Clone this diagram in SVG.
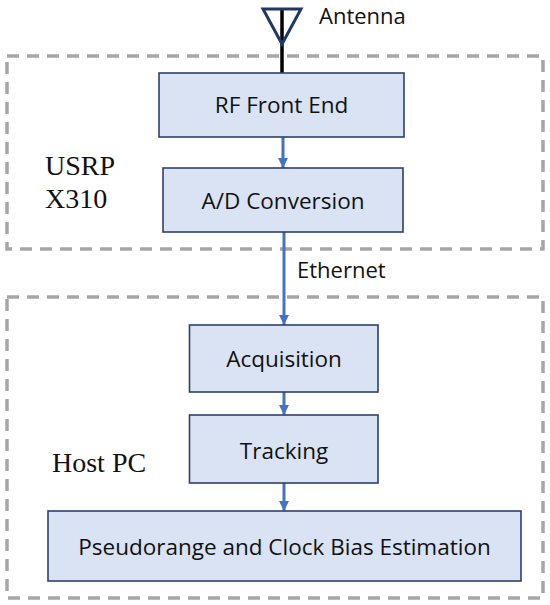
<svg xmlns="http://www.w3.org/2000/svg" width="550" height="605" viewBox="0 0 550 605">
<style>
.node{fill:#dae3f3;stroke:#2f3f6f;stroke-width:1.6}
.lbl{font-family:"Open Sans","Noto Sans",sans-serif;font-size:22.5px;fill:#111;text-anchor:middle}
.grp{fill:none;stroke:#a6a6a6;stroke-width:3.5;stroke-dasharray:12 8}
.glbl{font-family:"Liberation Serif","Times New Roman",serif;font-size:28px;fill:#111}
.conn{stroke:#4472c4;stroke-width:3;fill:none;marker-end:url(#ah)}
.plain{font-family:"Open Sans","Noto Sans",sans-serif;font-size:22px;fill:#111}
</style>
<defs>
<marker id="ah" viewBox="0 0 10 10" refX="10" refY="5" markerWidth="10" markerHeight="10" markerUnits="userSpaceOnUse" orient="auto">
<path d="M0,0 L10,5 L0,10 z" fill="#4472c4"/>
</marker>
</defs>
<rect width="550" height="605" fill="#fff"/>
<g id="usrp">
<rect class="grp" x="7" y="56" width="536" height="193"/>
<text class="glbl" x="45" y="175">USRP</text>
<text class="glbl" x="45" y="208">X310</text>
</g>
<g id="hostpc">
<rect class="grp" x="7" y="297" width="536" height="301"/>
<text class="glbl" x="52" y="472">Host PC</text>
</g>
<g id="antenna">
<line x1="282" y1="8" x2="282" y2="73" stroke="#000" stroke-width="3.5"/>
<path d="M263,9 L301,9 L282,44 z" fill="none" stroke="#1f3864" stroke-width="3"/>
<text class="plain" x="319" y="24">Antenna</text>
</g>
<g id="connectors">
<line class="conn" x1="283" y1="137" x2="283" y2="168"/>
<line class="conn" x1="284" y1="232" x2="284" y2="325"/>
<line class="conn" x1="284" y1="392" x2="284" y2="415"/>
<line class="conn" x1="284" y1="483" x2="284" y2="511"/>
<text class="plain" x="297" y="278">Ethernet</text>
</g>
<g id="rf">
<rect class="node" x="159" y="73" width="245" height="64"/>
<text class="lbl" x="281.5" y="113">RF Front End</text>
</g>
<g id="adc">
<rect class="node" x="163" y="168" width="240" height="64"/>
<text class="lbl" x="283" y="208.5">A/D Conversion</text>
</g>
<g id="acq">
<rect class="node" x="189.5" y="325" width="188.5" height="67"/>
<text class="lbl" x="284" y="367">Acquisition</text>
</g>
<g id="trk">
<rect class="node" x="189.5" y="415" width="188.5" height="68"/>
<text class="lbl" x="284" y="459">Tracking</text>
</g>
<g id="pr">
<rect class="node" x="48" y="511" width="473" height="70"/>
<text class="lbl" x="284.5" y="555">Pseudorange and Clock Bias Estimation</text>
</g>
</svg>
